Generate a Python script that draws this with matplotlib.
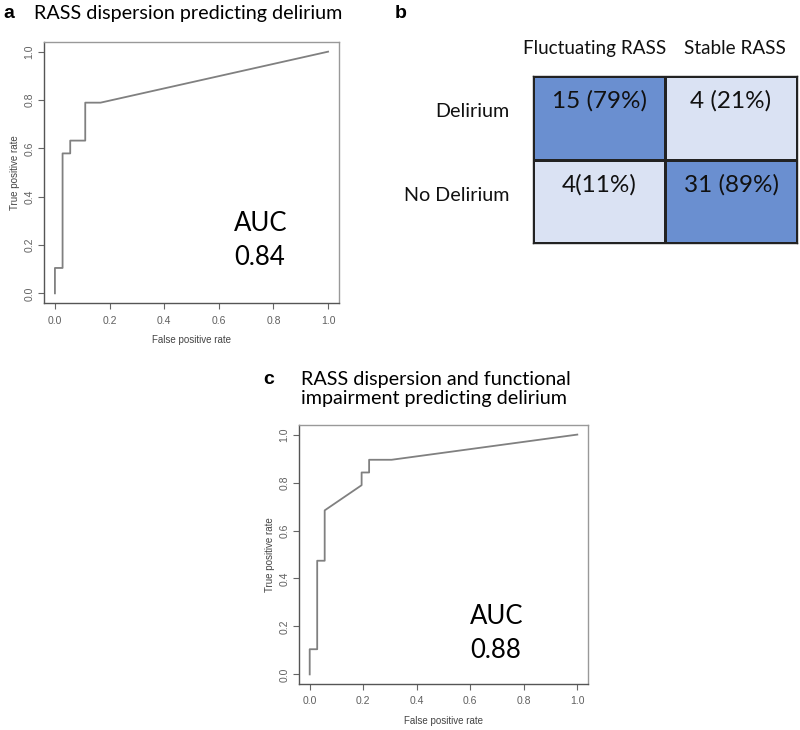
import numpy as np
import matplotlib
matplotlib.use("Agg")
from matplotlib import pyplot as plt
from matplotlib.colors import ListedColormap

# ROC curve (a): RASS dispersion
fpr_a = [0.0, 0.0, 0.028, 0.028, 0.056, 0.056, 0.111, 0.111, 0.167, 1.0]
tpr_a = [0.0, 0.105, 0.105, 0.579, 0.579, 0.632, 0.632, 0.789, 0.789, 1.0]
auc_a = "0.84"

# ROC curve (c): RASS dispersion + functional impairment
fpr_c = [0.0, 0.0, 0.028, 0.028, 0.056, 0.056, 0.194, 0.194, 0.222, 0.222, 0.306, 1.0]
tpr_c = [0.0, 0.105, 0.105, 0.474, 0.474, 0.684, 0.789, 0.842, 0.842, 0.895, 0.895, 1.0]
auc_c = "0.88"

# contingency table (b)
col_names = ["Fluctuating RASS", "Stable RASS"]
row_names = ["Delirium", "No Delirium"]
cell_text = [["15 (79%)", "4 (21%)"],
             ["4(11%)", "31 (89%)"]]
cell_pct = np.array([[79, 21], [11, 89]])

W, H = 800, 730
fig = plt.figure(figsize=(8, 7.3), dpi=100)

def box(l, t, r, b):
    return [l / W, 1 - b / H, (r - l) / W, (b - t) / H]

TITLE_FONT = ["Lato", "DejaVu Sans"]
R_FONT = ["Liberation Sans", "DejaVu Sans"]
GREY = "#808080"

def roc_panel(rect, fpr, tpr, auc, auc_xy):
    ax = fig.add_axes(rect)
    ax.plot(fpr, tpr, color=GREY, lw=1.3)
    ax.set_xlim(-0.04, 1.04)
    ax.set_ylim(-0.04, 1.04)
    ticks = [0.0, 0.2, 0.4, 0.6, 0.8, 1.0]
    ax.set_xticks(ticks)
    ax.set_yticks(ticks)
    ax.set_xticklabels([f"{t:.1f}" for t in ticks], fontsize=7.5, color="#606060", family=R_FONT)
    ax.set_yticklabels([f"{t:.1f}" for t in ticks], fontsize=7.5, color="#606060", family=R_FONT,
                       rotation=90, va="center")
    ax.tick_params(axis="x", direction="out", length=4, width=0.8, color="#666666", pad=5)
    ax.tick_params(axis="y", direction="out", length=4, width=0.8, color="#666666", pad=3)
    for s in ax.spines.values():
        s.set_color("#999999")
        s.set_linewidth(1.0)
    ax.spines["left"].set_color("#555555")
    ax.spines["bottom"].set_color("#555555")
    ax.set_xlabel("False positive rate", fontsize=7, color="#444444", family=R_FONT, labelpad=7)
    ax.set_ylabel("True positive rate", fontsize=7, color="#444444", family=R_FONT, labelpad=3)
    ax.text(auc_xy[0], auc_xy[1], "AUC\n" + auc, fontsize=18.5, family=TITLE_FONT,
            linespacing=1.45, va="center", ha="left", transform=ax.transData)
    return ax

# panel a
roc_panel(box(44, 42, 339, 303), fpr_a, tpr_a, auc_a, (0.655, 0.22))
fig.text(3 / W, 1 - 13 / H, "a", fontsize=14, fontweight="bold", family=R_FONT, va="center")
fig.text(34 / W, 1 - 13 / H, "RASS dispersion predicting delirium", fontsize=14.2,
         family=TITLE_FONT, va="center")

# panel c
roc_panel(box(299, 425, 588, 684), fpr_c, tpr_c, auc_c, (0.6, 0.17))
fig.text(263 / W, 1 - 380 / H, "c", fontsize=14, fontweight="bold", family=R_FONT, va="center")
fig.text(301 / W, 1 - 389 / H, "RASS dispersion and functional\nimpairment predicting delirium",
         fontsize=14.2, family=TITLE_FONT, va="center", linespacing=1.15)

# panel b: table
fig.text(395 / W, 1 - 13 / H, "b", fontsize=14, fontweight="bold", family=R_FONT, va="center")
axb = fig.add_axes(box(533, 76, 797, 243))
cmap = ListedColormap(["#dae2f3", "#6a8fd0"])
axb.pcolormesh(np.arange(3), np.arange(3), (cell_pct >= 50).astype(int), cmap=cmap,
               vmin=0, vmax=1, edgecolors="#222222", linewidth=0.9)
axb.set_xlim(0, 2)
axb.set_ylim(2, 0)
axb.set_xticks([])
axb.set_yticks([])
for s in axb.spines.values():
    s.set_color("#222222")
    s.set_linewidth(1.0)
for i in range(2):
    for j in range(2):
        axb.text(j + 0.5, i + 0.3, cell_text[i][j], ha="center", va="center",
                 fontsize=17.5, family=TITLE_FONT, color="#111111")
header_x = [0.47, 1.53]
for j, name in enumerate(col_names):
    axb.text(header_x[j], -0.33, name, ha="center", va="center", fontsize=13.6,
             family=TITLE_FONT, color="#111111")
for i, name in enumerate(row_names):
    axb.text(-0.18, i + 0.43, name, ha="right", va="center", fontsize=14.2,
             family=TITLE_FONT, color="#111111")

fig.savefig("out.png", dpi=100)
